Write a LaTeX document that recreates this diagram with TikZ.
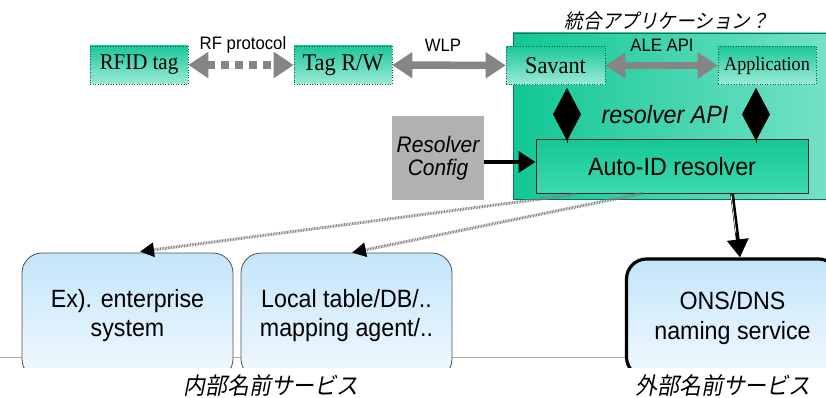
\documentclass[tikz,border=0pt]{standalone}
\usepackage{fontspec}
\setmainfont{Liberation Serif}[FakeStretch=0.93]
\setsansfont{Liberation Sans}[FakeStretch=0.93]
\newfontfamily\cjk{Noto Sans CJK JP}[FakeSlant=0.2,FakeStretch=0.93]
\usetikzlibrary{arrows.meta,calc}

\newcommand\fsz[2]{\fontsize{#1}{#2}\selectfont}

\definecolor{zonedark}{HTML}{12C795}
\definecolor{zonelight}{HTML}{78E3CA}
\definecolor{zoneedge}{HTML}{0E6E52}
\definecolor{boxtop}{HTML}{1CC79C}
\definecolor{boxbot}{HTML}{9CEBD6}
\definecolor{boxedge}{HTML}{0B5E47}
\definecolor{restop}{HTML}{16C795}
\definecolor{resbot}{HTML}{3DD9AF}
\definecolor{arrowgray}{HTML}{858585}
\definecolor{cfggray}{HTML}{B2B2B2}
\definecolor{svctop}{HTML}{C3E5FA}
\definecolor{svcbot}{HTML}{F2F9FF}
\definecolor{svcedge}{HTML}{505050}
\definecolor{rulegray}{HTML}{A8A8A8}

\tikzset{
  tagbox/.style={draw=boxedge, dotted, line width=0.6pt,
    top color=boxtop, bottom color=boxbot,
    minimum width=98, minimum height=38, inner sep=0pt},
  grayarrow/.style={draw=arrowgray, line width=7.5pt,
    {Triangle[length=20pt,width=25pt]}-{Triangle[length=20pt,width=25pt]}},
  svcbox/.style={rounded corners=20pt, top color=svctop, bottom color=svcbot,
    minimum width=211, align=center, inner sep=0pt,
    font=\sffamily\fsz{25}{29}},
  hatcharrow/.style={draw=black!50, line width=3pt,
    dash pattern=on 0.8pt off 0.8pt,
    -{Triangle[length=14pt,width=14pt,color=black]}},
  lbl/.style={inner sep=0pt, font=\sffamily\fsz{18}{20}},
  jlbl/.style={inner sep=0pt, font=\cjk\fsz{23.5}{25}},
}

\begin{document}
\begin{tikzpicture}[x=1pt,y=-1pt]
\useasboundingbox (0,0) rectangle (826,398);
\clip (0,0) rectangle (826,398);

% integrated application zone
\node[draw=zoneedge, line width=0.8pt, left color=zonedark, right color=zonelight,
      minimum width=330, minimum height=166, inner sep=0pt] (big) at (678,116) {};

% top row
\node[tagbox, font=\fsz{22.5}{26}] (rfid) at (139,65) {RFID tag};
\node[tagbox, font=\fsz{24}{26}] (tagrw) at (343,65) {Tag R/W};
\node[tagbox, minimum width=99, font=\fsz{24}{26}] (sav) at (555.5,65.5) {Savant};
\node[tagbox, font=\fsz{19.5}{22}] (app) at (767,65.5) {Application};

\draw[grayarrow, dash pattern=on 8pt off 6pt] (rfid) -- (tagrw);
\draw[grayarrow] (tagrw) -- (sav);
\draw[grayarrow] (sav) -- (app);

\node[lbl] (rflbl) at (243,45) {RF protocol};
\node[lbl] (wlplbl) at (443,45) {WLP};
\node[lbl] (alelbl) at (662,45) {ALE API};
\node[inner sep=0pt, font=\cjk\fsz{20}{22}] (intlbl) at (667,21) {統合アプリケーション？};

% resolver
\node[draw=black!85, line width=1pt, top color=restop, bottom color=resbot,
      minimum width=272, minimum height=53, inner sep=0pt,
      font=\sffamily\fsz{25}{28}] (res) at (672,166.5) {Auto-ID resolver};

\node[inner sep=0pt, font=\sffamily\itshape\fsz{25}{28}] (apilbl) at (665,115) {resolver API};

% resolver API connectors
\coordinate (dl) at ($(sav.south)+(11.5,3)$);
\coordinate (dr) at ($(app.south)+(-11,3)$);
\foreach \d in {dl,dr}{
  \fill (\d) -- ++(14,26.5) -- ++(-14,26.5) -- ++(-14,-26.5) -- cycle;
  \draw[line width=0.8pt] ($(\d)+(0,52)$) -- ($(\d)+(0,55)$);
}

% configuration input
\node[fill=cfggray, minimum width=92, minimum height=84, inner sep=0pt, align=center,
      font=\sffamily\itshape\fsz{22.5}{23}] (cfg) at (438,158) {Resolver\\Config};
\coordinate (cfgy) at (0,162);
\draw[line width=3.5pt, -{Triangle[length=17pt,width=21pt]}] (cfg.east |- cfgy) -- (res.west |- cfgy);

% naming services
\draw[rulegray, line width=1pt] (0,357) -- (826,357);
\begin{scope}
\clip (0,0) rectangle (826,367);
\node[svcbox, draw=svcedge, line width=0.8pt, minimum height=126] (ex) at (127.5,316) {Ex). enterprise\\system};
\node[svcbox, draw=svcedge, line width=0.8pt, minimum height=126] (loc) at (346.5,316) {Local table/DB/..\\mapping agent/..};
\node[svcbox, draw=black, line width=3.2pt, minimum width=212, minimum height=118,
      font=\sffamily\fsz{25}{30}] (ons) at (732.5,318) {ONS/DNS\\naming service};
\end{scope}

\draw[hatcharrow] ($(res.south)+(-97,1)$) -- ($(ex.north)+(12.5,-1)$);
\draw[hatcharrow] ($(res.south)+(-30,0)$) -- ($(loc.north)+(5.5,0)$);

\coordinate (rs) at ($(res.south)+(60,0)$);
\coordinate (ot) at ($(ons.north)+(7.5,0)$);
\draw[line width=3.8pt, -{Triangle[length=18pt,width=21pt]}] (rs) -- (ot);
\draw[white, line width=0.7pt] ($(rs)+(-1,1)$) -- ($(rs)!0.62!(ot)+(-1,0)$);

\node[jlbl] (inner) at (271,385.5) {内部名前サービス};
\node[jlbl] (outer) at (723,385.5) {外部名前サービス};
\end{tikzpicture}
\end{document}
